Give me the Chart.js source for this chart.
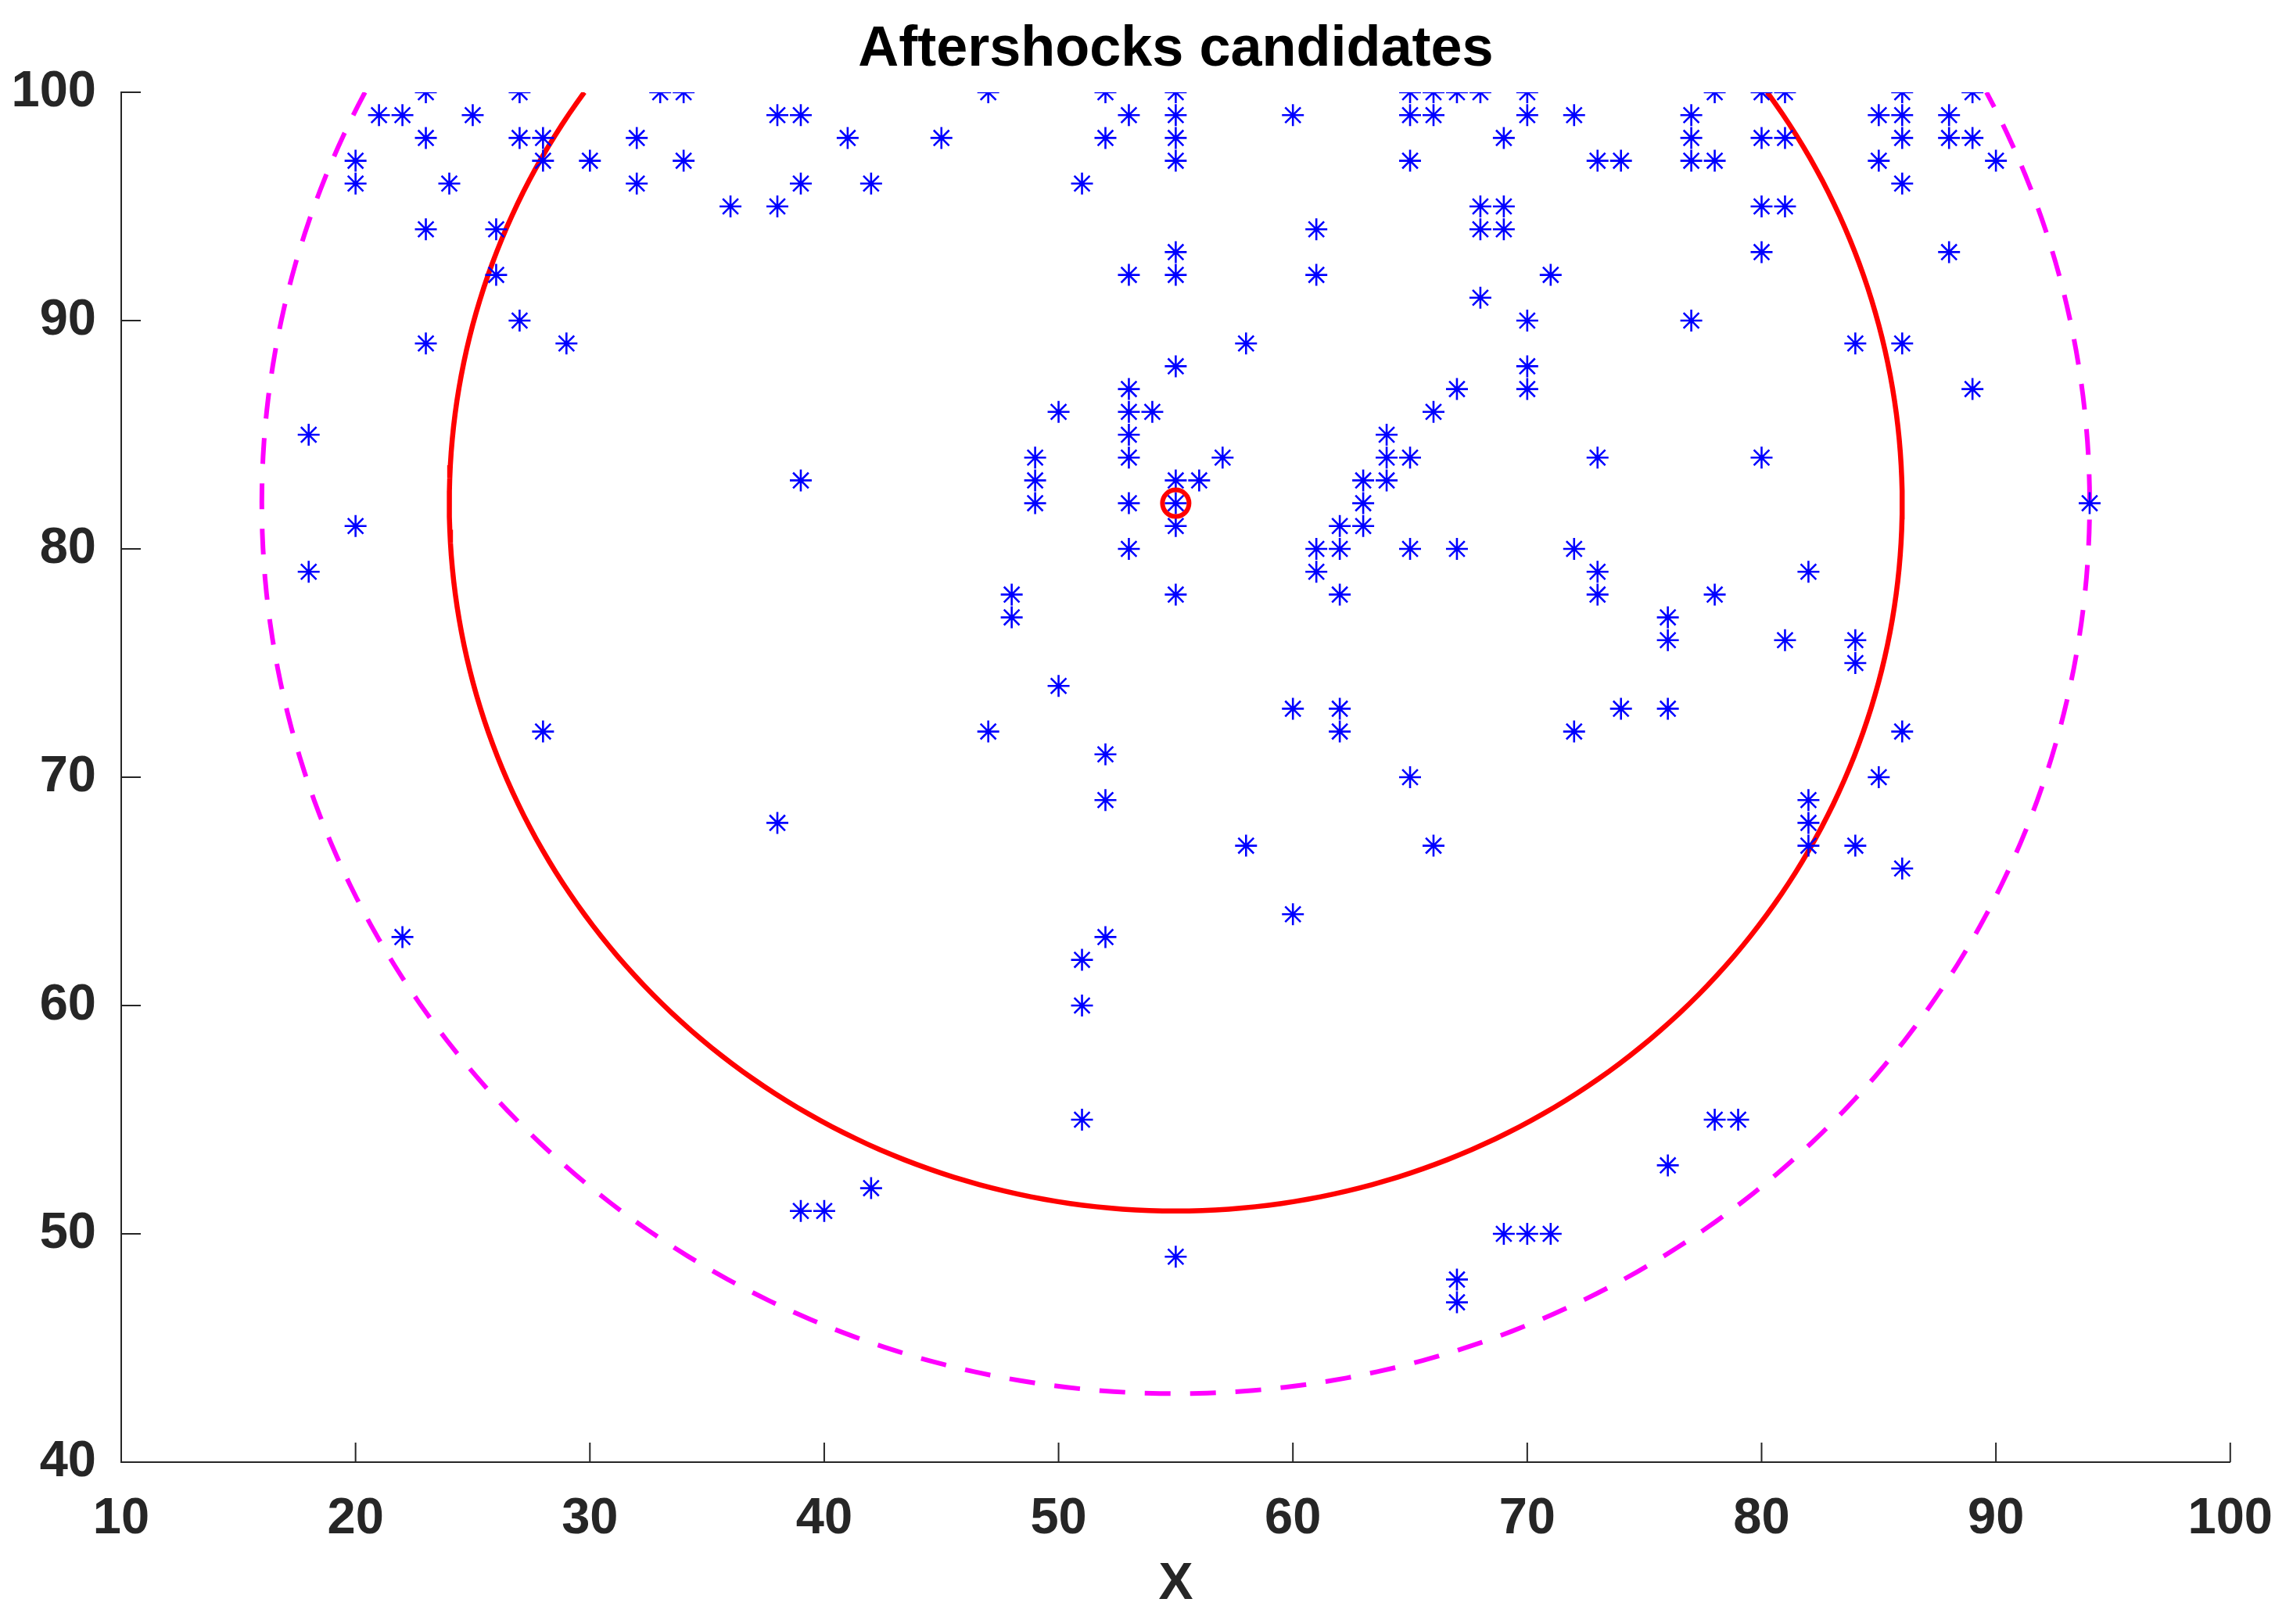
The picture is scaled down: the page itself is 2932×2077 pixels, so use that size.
<!DOCTYPE html>
<html>
<head>
<meta charset="utf-8">
<title>Aftershocks candidates</title>
<script src="https://cdn.jsdelivr.net/npm/chart.js@4.4.1/dist/chart.umd.min.js"></script>
<style>
  html, body { margin: 0; padding: 0; background: #fff; overflow: hidden; }
  #wrap { width: 2932px; height: 2077px; }
</style>
</head>
<body>
<div id="wrap"><canvas id="quake"></canvas></div>
<script>
// Candidate events, grouped by their y value
var row_y = [100, 99, 98, 97, 96, 95, 94, 93, 92, 91, 90, 89, 88, 87, 86, 85, 84, 83, 82, 81,
             80, 79, 78, 77, 76, 75, 74, 73, 72, 71, 70, 69, 68, 67, 66, 64, 63, 62, 60, 55,
             53, 52, 51, 50, 49, 48, 47];
var row_x = [
  [23, 27, 33, 34, 47, 52, 55, 65, 66, 67, 68, 70, 78, 80, 81, 86, 89],
  [21, 22, 25, 38, 39, 53, 55, 60, 65, 66, 70, 72, 77, 85, 86, 88],
  [23, 27, 28, 32, 41, 45, 52, 55, 69, 77, 80, 81, 86, 88, 89],
  [20, 28, 30, 34, 55, 65, 73, 74, 77, 78, 85, 90],
  [20, 24, 32, 39, 42, 51, 86],
  [36, 38, 68, 69, 80, 81],
  [23, 26, 61, 68, 69],
  [55, 80, 88],
  [26, 53, 55, 61, 71],
  [68],
  [27, 70, 77],
  [23, 29, 58, 84, 86],
  [55, 70],
  [53, 67, 70, 89],
  [50, 53, 54, 66],
  [18, 53, 64],
  [49, 53, 57, 64, 65, 73, 80],
  [39, 49, 55, 56, 63, 64],
  [49, 53, 55, 63, 94],
  [20, 55, 62, 63],
  [53, 61, 62, 65, 67, 72],
  [18, 61, 73, 82],
  [48, 55, 62, 73, 78],
  [48, 76],
  [76, 81, 84],
  [84],
  [50],
  [60, 62, 74, 76],
  [28, 47, 62, 72, 86],
  [52],
  [65, 85],
  [52, 82],
  [38, 82],
  [58, 66, 82, 84],
  [86],
  [60],
  [22, 52],
  [51],
  [51],
  [51, 78, 79],
  [76],
  [42],
  [39, 40],
  [69, 70, 71],
  [55],
  [67],
  [67]
];

// Mainshock and the two search radii
var main_x = [55];
var main_y = [82];
var inner_r = 31;
var outer_r = 39;

// Axis ticks
var x_ticks = [10, 20, 30, 40, 50, 60, 70, 80, 90, 100];
var y_ticks = [40, 50, 60, 70, 80, 90, 100];

var y_top = y_ticks[y_ticks.length - 1];

var cand_points = [];
for (var i = 0; i < row_y.length; i++) {
  for (var j = 0; j < row_x[i].length; j++) {
    cand_points.push({x: row_x[i][j], y: row_y[i]});
  }
}

// circle around the mainshock, only the part below the top of the axes
function arc_points(r) {
  var cx = main_x[0], cy = main_y[0];
  var t1 = Math.asin((y_top - cy) / r);
  var t0 = -Math.PI - t1;
  var pts = [];
  var n = 240;
  for (var k = 0; k <= n; k++) {
    var t = t0 + (t1 - t0) * k / n;
    pts.push({x: cx + r * Math.cos(t), y: cy + r * Math.sin(t)});
  }
  return pts;
}

var font_family = "'Liberation Sans', Arial, sans-serif";
var axis_color = '#262626';

// MATLAB style ticks that point into the plot
var inward_ticks = {
  id: 'inward_ticks',
  afterDraw: function (chart) {
    var ctx = chart.ctx;
    var a = chart.chartArea;
    var xs = chart.scales.x;
    var ys = chart.scales.y;
    ctx.save();
    ctx.strokeStyle = axis_color;
    ctx.lineWidth = 2;
    ctx.beginPath();
    x_ticks.forEach(function (v) {
      var px = xs.getPixelForValue(v);
      ctx.moveTo(px, a.bottom);
      ctx.lineTo(px, a.bottom - 25);
    });
    y_ticks.forEach(function (v) {
      var py = ys.getPixelForValue(v);
      ctx.moveTo(a.left, py);
      ctx.lineTo(a.left + 25, py);
    });
    ctx.stroke();
    ctx.restore();
  }
};

var ctx = document.getElementById('quake').getContext('2d');

var chart = new Chart(ctx, {
  type: 'scatter',
  data: {
    datasets: [
      {
        label: 'Mainshock',
        data: [{x: main_x[0], y: main_y[0]}],
        pointStyle: 'circle',
        pointRadius: 17,
        borderWidth: 6,
        borderColor: '#FF0000',
        backgroundColor: 'rgba(0,0,0,0)',
        order: 0
      },
      {
        label: 'Candidates',
        data: cand_points,
        pointStyle: 'star',
        pointRadius: 14,
        borderWidth: 2.6,
        borderColor: '#0000FF',
        backgroundColor: '#0000FF',
        order: 1
      },
      {
        label: 'Inner radius',
        data: arc_points(inner_r),
        showLine: true,
        pointRadius: 0,
        borderColor: '#FF0000',
        borderWidth: 6.5,
        tension: 0,
        order: 2
      },
      {
        label: 'Outer radius',
        data: arc_points(outer_r),
        showLine: true,
        pointRadius: 0,
        borderColor: '#FF00FF',
        borderWidth: 6,
        borderDash: [33, 25],
        tension: 0,
        order: 3
      }
    ]
  },
  options: {
    responsive: true,
    maintainAspectRatio: false,
    devicePixelRatio: 1,
    animation: false,
    events: [],
    layout: {
      padding: {left: 0, right: 77, top: 0, bottom: 0}
    },
    scales: {
      x: {
        type: 'linear',
        min: 10,
        max: 100,
        afterFit: function (s) { s.height = 207; },
        afterBuildTicks: function (s) {
          s.ticks = x_ticks.map(function (v) { return {value: v}; });
        },
        grid: {display: false},
        border: {display: true, color: axis_color, width: 2},
        ticks: {
          padding: 26,
          color: axis_color,
          font: {family: font_family, size: 65, weight: 'bold'}
        },
        title: {
          display: true,
          text: 'X',
          color: axis_color,
          padding: {top: 0, bottom: 11},
          font: {family: font_family, size: 66, weight: 'bold'}
        }
      },
      // top axis only carries the title, so it is centred over the plot box
      top: {
        type: 'linear',
        position: 'top',
        min: 10,
        max: 100,
        afterFit: function (s) { s.height = 118; },
        grid: {display: false},
        border: {display: false},
        ticks: {display: false},
        title: {
          display: true,
          text: 'Aftershocks candidates',
          color: '#000000',
          padding: {top: 21, bottom: 0},
          font: {family: font_family, size: 72, weight: 'bold'}
        }
      },
      y: {
        type: 'linear',
        min: 40,
        max: 100,
        afterFit: function (s) { s.width = 155; },
        afterBuildTicks: function (s) {
          s.ticks = y_ticks.map(function (v) { return {value: v}; });
        },
        grid: {display: false},
        border: {display: true, color: axis_color, width: 2},
        ticks: {
          padding: 24,
          color: axis_color,
          font: {family: font_family, size: 65, weight: 'bold'}
        }
      }
    },
    plugins: {
      legend: {display: false},
      tooltip: {enabled: false},
      title: {display: false}
    }
  },
  plugins: [inward_ticks]
});
</script>
</body>
</html>
